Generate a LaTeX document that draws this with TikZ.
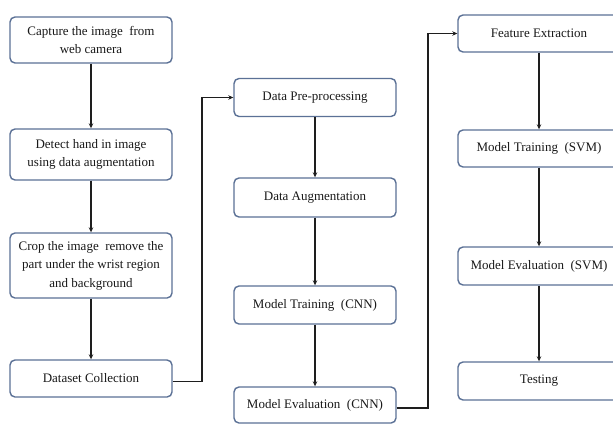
\documentclass[tikz,border=0pt]{standalone}
\usepackage{fontspec}
\setmainfont{Liberation Serif}
\usetikzlibrary{arrows.meta}
\definecolor{boxline}{HTML}{5B7196}
\definecolor{arrline}{HTML}{1E1E1E}
\begin{document}
\begin{tikzpicture}[x=1pt,y=-1pt,
  flowbox/.style={draw=boxline, line width=1.4pt, rounded corners=5pt, fill=white,
    minimum width=162pt, align=center, inner sep=2pt,
    font=\fontsize{13}{18.5}\selectfont, text=black!90},
  flowarrow/.style={draw=arrline, line width=1.2pt, -{Stealth[length=5pt,width=4.5pt]}}]
\useasboundingbox (0,0) rectangle (613,424);
\clip (0,0) rectangle (613,424);
\fill[white] (0,0) rectangle (613,424);
% column 1
\node[flowbox, minimum height=46pt] (b1) at (91,40) {Capture the image\ \ from\\web camera};
\node[flowbox, minimum height=51pt] (b2) at (91,154.5) {Detect hand in image\\using data augmentation};
\node[flowbox, minimum height=65pt] (b3) at (91,265.5) {Crop the image\ \ remove the\\part under the wrist region\\and background};
\node[flowbox, minimum height=37pt] (b4) at (91,378.5) {Dataset Collection};
% column 2
\node[flowbox, minimum height=38pt] (c1) at (315,97.5) {Data Pre-processing};
\node[flowbox, minimum height=39pt] (c2) at (315,197.5) {Data Augmentation};
\node[flowbox, minimum height=38pt] (c3) at (315,305) {Model Training\ \ (CNN)};
\node[flowbox, minimum height=36pt] (c4) at (315,405) {\raisebox{-5pt}{Model Evaluation\ \ (CNN)}};
% column 3
\node[flowbox, minimum height=37pt] (d1) at (539,33.5) {Feature Extraction};
\node[flowbox, minimum height=37pt] (d2) at (539,148.5) {Model Training\ \ (SVM)};
\node[flowbox, minimum height=38pt] (d3) at (539,266) {Model Evaluation\ \ (SVM)};
\node[flowbox, minimum height=38pt] (d4) at (539,381) {Testing};
% connectors
\draw[flowarrow] (b1) -- (b2);
\draw[flowarrow] (b2) -- (b3);
\draw[flowarrow] (b3) -- (b4);
\coordinate (j1) at (202,0);
\draw[flowarrow] ([yshift=-3pt]b4.east) -| (j1 |- c1.west) -- (c1.west);
\draw[flowarrow] (c1) -- (c2);
\draw[flowarrow] (c2) -- (c3);
\draw[flowarrow] (c3) -- (c4);
\coordinate (j2) at (428,0);
\draw[flowarrow] ([yshift=-3pt]c4.east) -| (j2 |- d1.west) -- (d1.west);
\draw[flowarrow] (d1) -- (d2);
\draw[flowarrow] (d2) -- (d3);
\draw[flowarrow] (d3) -- (d4);
\end{tikzpicture}
\end{document}
